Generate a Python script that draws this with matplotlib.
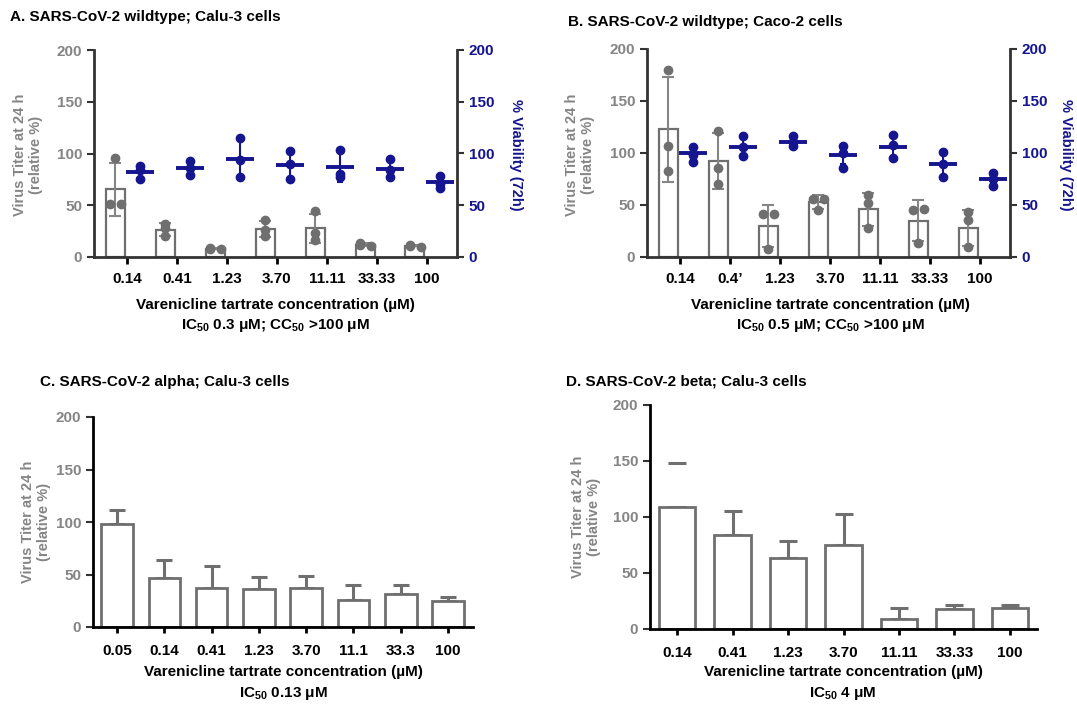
import numpy as np
import matplotlib
matplotlib.use("Agg")
import matplotlib.pyplot as plt

plt.rcParams['font.family'] = ['Liberation Sans', 'DejaVu Sans']
plt.rcParams['font.weight'] = 'bold'
plt.rcParams['mathtext.default'] = 'regular'

# ---- data ----
conc_ab = ['0.14', '0.41', '1.23', '3.70', '11.11', '33.33', '100']
conc_ab_b = ['0.14', '0.4\u2019', '1.23', '3.70', '11.11', '33.33', '100']
conc_c = ['0.05', '0.14', '0.41', '1.23', '3.70', '11.1', '33.3', '100']
conc_d = ['0.14', '0.41', '1.23', '3.70', '11.11', '33.33', '100']

# panel A: virus titer (relative %)
a_titer_mean = [65.5, 26.5, 8, 27, 27.7, 12, 11]
a_titer_sd = [25.5, 6.5, 0.6, 7.5, 14.2, 1.5, 0.8]
a_titer_pts = [[51, 51, 96], [28, 32, 20], [8, 9, 8], [36, 26, 20], [44, 23, 16], [14, 12, 11], [12, 11, 10]]
# panel A: viability (72h)
a_via_mean = [82, 86, 95, 89, 87, 85, 72]
a_via_sd = [6, 6, 18, 13, 15, 8, 4]
a_via_pts = [[88, 84, 75], [93, 86, 79], [115, 94, 77], [102, 90, 75], [103, 80, 77], [95, 84, 77], [78, 71, 67]]

# panel B
b_titer_mean = [123, 92, 30, 53, 46, 35, 28]
b_titer_sd = [50.5, 27, 20, 6.5, 16, 20, 17]
b_titer_pts = [[180, 107, 83], [121, 86, 70], [41, 41, 8], [56, 56, 45], [60, 52, 28], [45, 46, 13], [43, 36, 10]]
b_via_mean = [100, 106, 111, 98, 106, 89, 75]
b_via_sd = [7, 9, 4, 9, 10, 11, 6]
b_via_pts = [[106, 98, 91], [116, 106, 97], [116, 111, 107], [107, 100, 86], [117, 108, 95], [101, 89, 77], [81, 75, 68]]

# panel C (mean, upper SD)
c_mean = [98.5, 46.3, 37.5, 36.5, 37.2, 25.7, 31, 24.4]
c_err = [12.9, 17.2, 20.9, 11.4, 11.1, 14.3, 9, 4.5]

# panel D
d_mean = [108.5, 83.5, 63, 75, 9, 17.5, 18.5]
d_err = [40, 22, 16, 27.5, 9.8, 3.6, 2.8]

W, H = 1077, 705
grey = '#6f6f6f'
lgrey = '#858585'
navy = '#15158f'
dark = '#333333'

fig = plt.figure(figsize=(W / 100, H / 100), dpi=100)


def px_axes(l, t, r, b):
    return fig.add_axes([l / W, 1 - b / H, (r - l) / W, (b - t) / H])


def ftext(x, y, s, **kw):
    fig.text(x / W, 1 - y / H, s, **kw)


def spread(pts):
    # side-by-side offsets for points with nearly equal values
    off = [0.0] * len(pts)
    for i in range(len(pts)):
        for j in range(i + 1, len(pts)):
            if abs(pts[i] - pts[j]) < 4:
                off[i], off[j] = -0.11, 0.11
    return off


def style_left(ax, ylim=200):
    ax.set_ylim(0, ylim)
    ax.set_yticks([0, 50, 100, 150, 200])
    ax.spines['top'].set_visible(False)
    ax.spines['right'].set_visible(False)
    ax.spines['left'].set_color(dark)
    ax.spines['bottom'].set_color(dark)
    ax.spines['left'].set_linewidth(2)
    ax.spines['bottom'].set_linewidth(2)
    ax.tick_params(axis='y', colors=lgrey, labelsize=11, length=5, width=1.5)
    ax.tick_params(axis='y', color=dark)
    ax.tick_params(axis='x', labelsize=11, length=5, width=2, color='black', labelcolor='black', pad=6)
    ax.set_facecolor('none')


def dual_panel(ax, labels, t_mean, t_sd, t_pts, v_mean, v_sd, v_pts):
    x = np.arange(len(labels))
    xb = x - 0.24
    xv = x + 0.26
    ax.bar(xb, t_mean, width=0.38, facecolor='white', edgecolor=grey, linewidth=1.6, zorder=2)
    ax.errorbar(xb, t_mean, yerr=t_sd, fmt='none', ecolor=lgrey, elinewidth=1.5, capsize=4, capthick=1.5, zorder=3)
    for xi, pts in zip(xb, t_pts):
        off = spread(pts)
        ax.plot([xi + o for o in off], pts, 'o', color=grey, markersize=6, zorder=4)
    style_left(ax)
    ax.set_xlim(-0.66, 6.6)
    ax.set_xticks(x)
    ax.set_xticklabels(labels)
    ax2 = ax.twinx()
    ax2.set_ylim(0, 200)
    ax2.set_yticks([0, 50, 100, 150, 200])
    ax2.errorbar(xv, v_mean, yerr=v_sd, fmt='none', ecolor=navy, elinewidth=1.5, capsize=2.5, capthick=1.5, zorder=3)
    ax2.plot(xv, v_mean, ls='none', marker='_', markersize=20, mew=2.8, color=navy, zorder=4)
    for xi, pts in zip(xv, v_pts):
        ax2.plot([xi] * len(pts), pts, 'o', color=navy, markersize=6, zorder=4)
    for s in ['top', 'left', 'bottom']:
        ax2.spines[s].set_visible(False)
    ax2.spines['right'].set_color(dark)
    ax2.spines['right'].set_linewidth(2)
    ax2.tick_params(axis='y', labelcolor=navy, labelsize=11, length=5, width=1.5, color=dark)
    return ax2


def single_panel(ax, labels, mean, err, xlim, width, cap):
    x = np.arange(len(labels))
    ax.bar(x, mean, width=width, facecolor='white', edgecolor=grey, linewidth=2, zorder=2)
    lo = np.zeros(len(mean))
    eb = ax.errorbar(x, mean, yerr=[lo, err], fmt='none', ecolor=grey, elinewidth=2.2,
                     capsize=cap, capthick=2.2, zorder=1)
    style_left(ax)
    ax.spines['left'].set_color('black')
    ax.spines['bottom'].set_color('black')
    ax.set_xlim(*xlim)
    ax.set_xticks(x)
    ax.set_xticklabels(labels)
    ax.tick_params(axis='x', length=4, pad=8)
    return eb


ylab = 'Virus Titer at 24 h\n(relative %)'
xlab = 'Varenicline tartrate concentration (\u00b5M)'
fs_t = 11
fs_y = 10.5

# ---- Panel A ----
axA = px_axes(94, 50, 457, 257)
dual_panel(axA, conc_ab, a_titer_mean, a_titer_sd, a_titer_pts, a_via_mean, a_via_sd, a_via_pts)
ftext(10, 17, 'A. SARS-CoV-2 wildtype; Calu-3 cells', fontsize=fs_t, ha='left', va='center')
ftext(28, 155, ylab, fontsize=fs_y, color=lgrey, rotation=90, ha='center', va='center', linespacing=1.1)
ftext(516, 155, '% Viability (72h)', fontsize=fs_y, color=navy, rotation=270, ha='center', va='center')
ftext(275, 305, xlab, fontsize=fs_t, ha='center', va='center')
ftext(275, 325, r'IC$_{50}$ 0.3 $\mu$M; CC$_{50}$ >100 $\mu$M', fontsize=fs_t, ha='center', va='center')

# ---- Panel B ----
axB = px_axes(647, 49, 1010, 257)
dual_panel(axB, conc_ab_b, b_titer_mean, b_titer_sd, b_titer_pts, b_via_mean, b_via_sd, b_via_pts)
ftext(568, 22, 'B. SARS-CoV-2 wildtype; Caco-2 cells', fontsize=fs_t, ha='left', va='center')
ftext(580, 155, ylab, fontsize=fs_y, color=lgrey, rotation=90, ha='center', va='center', linespacing=1.1)
ftext(1066, 155, '% Viability (72h)', fontsize=fs_y, color=navy, rotation=270, ha='center', va='center')
ftext(830, 305, xlab, fontsize=fs_t, ha='center', va='center')
ftext(830, 325, r'IC$_{50}$ 0.5 $\mu$M; CC$_{50}$ >100 $\mu$M', fontsize=fs_t, ha='center', va='center')

# ---- Panel C ----
axC = px_axes(93, 417, 473, 627)
single_panel(axC, conc_c, c_mean, c_err, (-0.51, 7.53), 0.67, 6)
ftext(40, 382, 'C. SARS-CoV-2 alpha; Calu-3 cells', fontsize=fs_t, ha='left', va='center')
ftext(36, 522, ylab, fontsize=fs_y, color=lgrey, rotation=90, ha='center', va='center', linespacing=1.1)
ftext(283, 672, xlab, fontsize=fs_t, ha='center', va='center')
ftext(283, 693, r'IC$_{50}$ 0.13 $\mu$M', fontsize=fs_t, ha='center', va='center')

# ---- Panel D ----
axD = px_axes(650, 405, 1037, 629)
ebD = single_panel(axD, conc_d, d_mean, d_err, (-0.49, 6.49), 0.66, 6.5)
# the first error bar shows only its cap in the original
ebD.lines[2][0].set_linewidths([0] + [2.2] * (len(d_mean) - 1))
ftext(566, 381, 'D. SARS-CoV-2 beta; Calu-3 cells', fontsize=fs_t, ha='left', va='center')
ftext(586, 517, ylab, fontsize=fs_y, color=lgrey, rotation=90, ha='center', va='center', linespacing=1.1)
ftext(843, 672, xlab, fontsize=fs_t, ha='center', va='center')
ftext(843, 693, r'IC$_{50}$ 4 $\mu$M', fontsize=fs_t, ha='center', va='center')

fig.savefig('out.png', dpi=100)
